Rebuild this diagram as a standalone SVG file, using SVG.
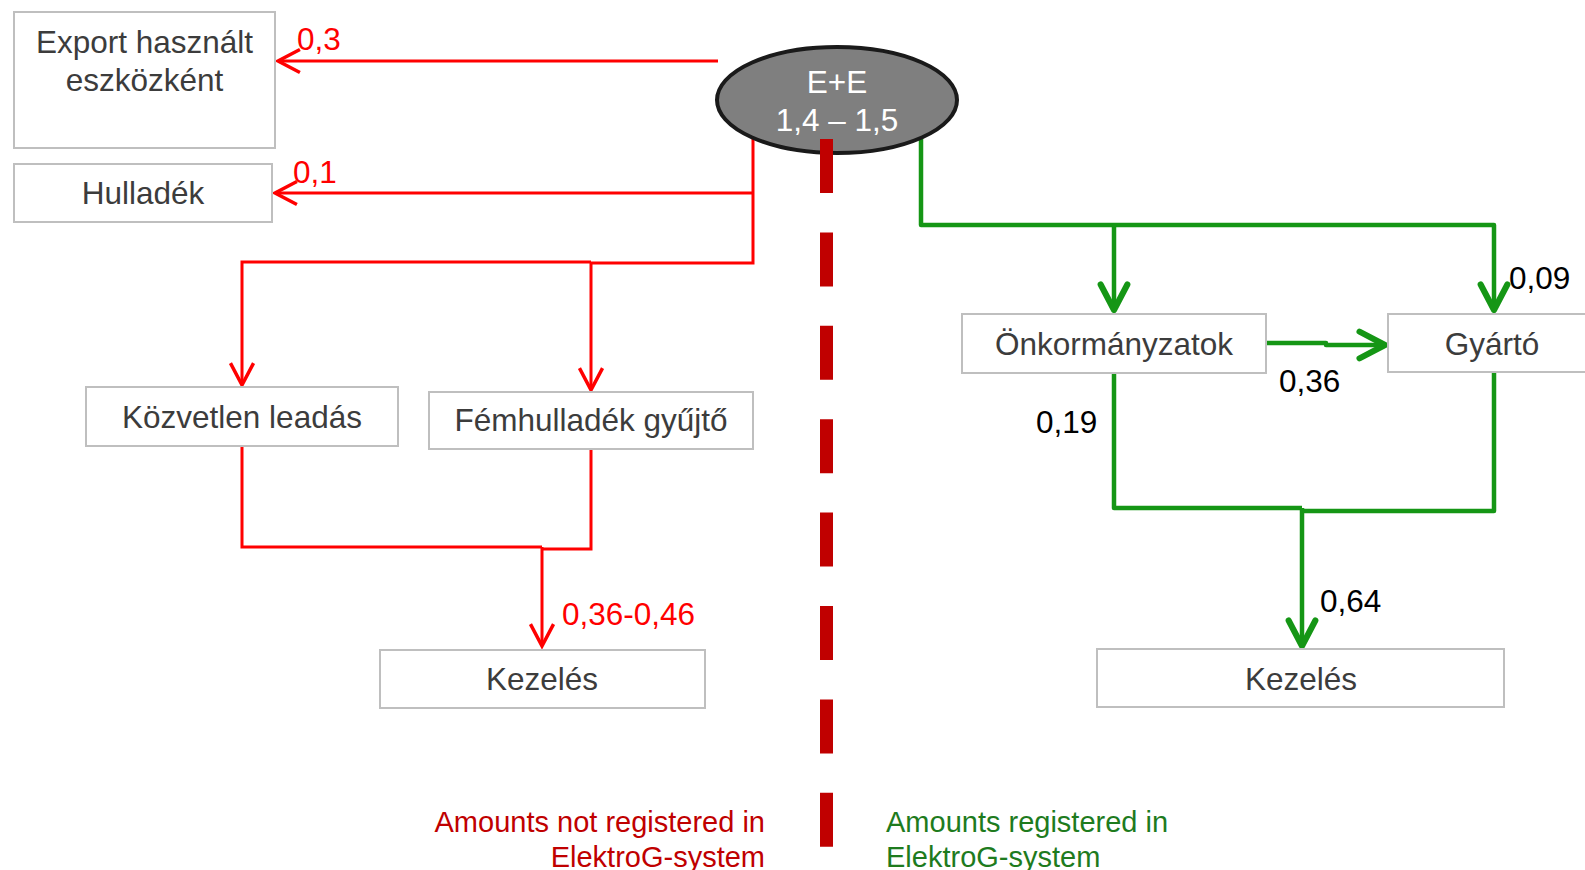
<svg xmlns="http://www.w3.org/2000/svg" width="1585" height="870" viewBox="0 0 1585 870">
<defs>
<style>
.box{fill:#fff;stroke:#bfbfbf;stroke-width:2}
.nt{font-family:"Liberation Sans",Arial,sans-serif;font-size:31.5px;fill:#3c3c3c;text-anchor:middle}
.lbl{font-family:"Liberation Sans",Arial,sans-serif;font-size:31.5px}
.red{fill:none;stroke:#ff0000;stroke-width:3}
.grn{fill:none;stroke:#159615;stroke-width:4.5;stroke-linejoin:round}
</style>
<marker id="ar" markerUnits="userSpaceOnUse" markerWidth="30" markerHeight="30" viewBox="-22 -12 26 24" refX="0" refY="0" orient="auto">
<path d="M-19 -10 L0 0 L-19 10" fill="none" stroke="#ff0000" stroke-width="3"/>
</marker>
<marker id="ag" markerUnits="userSpaceOnUse" markerWidth="34" markerHeight="34" viewBox="-24 -14 28 28" refX="0" refY="0" orient="auto">
<path d="M-21 -11 L0 0 L-21 11" fill="none" stroke="#159615" stroke-width="5" stroke-linecap="round" stroke-linejoin="round"/>
</marker>
</defs>
<rect width="1585" height="870" fill="#fff"/>
<g id="connectors">
<path class="red" d="M718 61 H278" marker-end="url(#ar)"/>
<path class="red" d="M753 139 V263 H591 V390" marker-end="url(#ar)"/>
<path class="red" d="M753 193 H275" marker-end="url(#ar)"/>
<path class="red" d="M591 262 H242 V385" marker-end="url(#ar)"/>
<path class="red" d="M242 446 V547 H542"/>
<path class="red" d="M591 449 V549 H542"/>
<path class="red" d="M542 547 V646" marker-end="url(#ar)"/>
<path class="grn" d="M921 138 V225 H1494 V310" marker-end="url(#ag)"/>
<path class="grn" d="M1114 225 V310" marker-end="url(#ag)"/>
<path class="grn" d="M1266 343 H1326 V345 H1385" marker-end="url(#ag)"/>
<path class="grn" d="M1114 370 V508 H1302"/>
<path class="grn" d="M1494 372 V511 H1302"/>
<path class="grn" d="M1302 508 V646" marker-end="url(#ag)"/>
<text class="lbl" x="297" y="50" fill="#ff0000">0,3</text>
<text class="lbl" x="293" y="183" fill="#ff0000">0,1</text>
<text class="lbl" x="562" y="625" fill="#ff0000">0,36-0,46</text>
<text class="lbl" x="1509" y="289" fill="#000">0,09</text>
<text class="lbl" x="1279" y="392" fill="#000">0,36</text>
<text class="lbl" x="1036" y="433" fill="#000">0,19</text>
<text class="lbl" x="1320" y="612" fill="#000">0,64</text>
</g>
<g id="export"><rect class="box" x="14" y="12" width="261" height="136"/><text class="nt" x="144.5" y="53">Export használt</text><text class="nt" x="144.5" y="91">eszközként</text></g>
<g id="hulladek"><rect class="box" x="14" y="164" width="258" height="58"/><text class="nt" x="143" y="204">Hulladék</text></g>
<g id="kozvetlen"><rect class="box" x="86" y="387" width="312" height="59"/><text class="nt" x="242" y="428">Közvetlen leadás</text></g>
<g id="femhulladek"><rect class="box" x="429" y="392" width="324" height="57"/><text class="nt" x="591" y="431">Fémhulladék gyűjtő</text></g>
<g id="kezeles-left"><rect class="box" x="380" y="650" width="325" height="58"/><text class="nt" x="542" y="690">Kezelés</text></g>
<g id="onkormanyzatok"><rect class="box" x="962" y="314" width="304" height="59"/><text class="nt" x="1114" y="355">Önkormányzatok</text></g>
<g id="gyarto"><rect class="box" x="1388" y="314" width="220" height="58"/><text class="nt" x="1492" y="355">Gyártó</text></g>
<g id="kezeles-right"><rect class="box" x="1097" y="649" width="407" height="58"/><text class="nt" x="1301" y="690">Kezelés</text></g>
<g id="ee"><ellipse cx="837" cy="100" rx="120" ry="53" fill="#7f7f7f" stroke="#1a1a1a" stroke-width="4"/><text class="nt" x="837" y="93" style="fill:#fff">E+E</text><text class="nt" x="837" y="131" style="fill:#fff">1,4 – 1,5</text></g>
<g id="divider"><line x1="826.5" y1="139" x2="826.5" y2="870" stroke="#c00000" stroke-width="13" stroke-dasharray="54 39.4"/></g>
<g id="legend">
<text class="lbl" x="765" y="832" fill="#c00000" text-anchor="end" style="font-size:29px">Amounts not registered in</text>
<text class="lbl" x="765" y="867" fill="#c00000" text-anchor="end" style="font-size:29px">ElektroG-system</text>
<text class="lbl" x="886" y="832" fill="#1e7b1e" style="font-size:29px">Amounts registered in</text>
<text class="lbl" x="886" y="867" fill="#1e7b1e" style="font-size:29px">ElektroG-system</text>
</g>
</svg>
